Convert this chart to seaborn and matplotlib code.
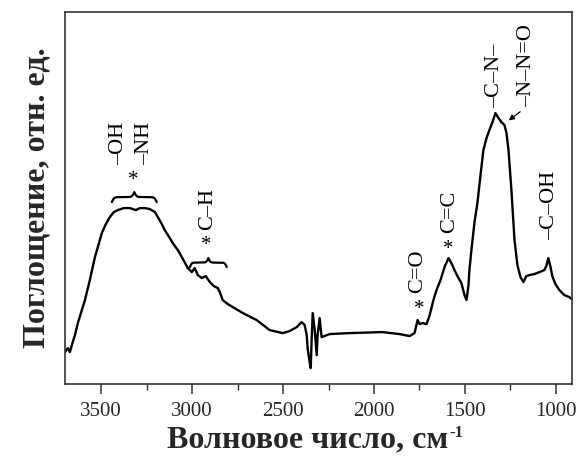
import numpy as np
import matplotlib
matplotlib.use("Agg")
import matplotlib.pyplot as plt
import matplotlib.transforms as mtransforms
import seaborn as sns

# ---- data ----
wavenumber = [3700, 3684, 3673, 3662, 3645, 3629, 3607, 3590, 3563, 3535, 3508, 3497,
              3475, 3453, 3431, 3409, 3376, 3343, 3326, 3310, 3288, 3260, 3233, 3205,
              3189, 3167, 3151, 3123, 3107, 3079, 3057, 3024, 3002, 2986, 2969, 2947,
              2925, 2903, 2881, 2859, 2848, 2832, 2804, 2777, 2711, 2645, 2574, 2502,
              2464, 2425, 2398, 2381, 2370, 2365, 2354, 2348, 2343, 2337, 2326, 2315,
              2310, 2299, 2288, 2244, 2134, 1953, 1859, 1804, 1777, 1760, 1749, 1733,
              1711, 1695, 1673, 1656, 1634, 1612, 1590, 1574, 1557, 1541, 1519, 1502,
              1491, 1480, 1475, 1464, 1447, 1431, 1414, 1398, 1381, 1365, 1348, 1332,
              1315, 1299, 1282, 1271, 1260, 1244, 1227, 1211, 1194, 1178, 1162, 1145,
              1118, 1090, 1063, 1052, 1041, 1030, 1019, 1002, 980, 953, 925, 914]
absorbance = [0.32, 0.36, 0.32, 0.39, 0.49, 0.61, 0.74, 0.84, 1.04, 1.27, 1.44, 1.51,
              1.60, 1.67, 1.72, 1.74, 1.76, 1.76, 1.75, 1.74, 1.76, 1.76, 1.75, 1.72,
              1.67, 1.60, 1.54, 1.46, 1.41, 1.34, 1.27, 1.16, 1.12, 1.16, 1.09, 1.06,
              1.08, 1.02, 0.98, 0.96, 0.92, 0.84, 0.80, 0.77, 0.70, 0.64, 0.54, 0.51,
              0.53, 0.57, 0.62, 0.59, 0.49, 0.36, 0.22, 0.16, 0.44, 0.71, 0.54, 0.29,
              0.49, 0.66, 0.47, 0.50, 0.51, 0.52, 0.50, 0.48, 0.51, 0.64, 0.60, 0.61,
              0.60, 0.68, 0.84, 0.94, 1.04, 1.17, 1.26, 1.21, 1.14, 1.08, 1.01, 0.89,
              0.84, 0.99, 1.14, 1.34, 1.62, 1.81, 2.09, 2.34, 2.46, 2.54, 2.62, 2.71,
              2.66, 2.62, 2.59, 2.51, 2.34, 1.94, 1.44, 1.19, 1.07, 1.02, 1.08, 1.09,
              1.10, 1.12, 1.14, 1.18, 1.26, 1.18, 1.08, 1.00, 0.94, 0.89, 0.87, 0.85]

xticks = [3500, 3000, 2500, 2000, 1500, 1000]
xminor = [3250, 2750, 2250, 1750, 1250]
xlabel = "Волновое число, см"
xlabel_sup = "-1"
ylabel = "Поглощение, отн. ед."

# annotations: (label, wavenumber, bottom of text in absorbance units)
labels = [("–OH", 3406, 2.19), ("–NH", 3260, 2.19), ("C–H", 2914, 1.54),
          ("C=O", 1760, 0.91), ("C=C", 1585, 1.51), ("–C–N–", 1337, 2.76),
          ("–N–N=O", 1162, 2.77), ("–C–OH", 1035, 1.44)]
stars = [(3326, 2.04), (2920, 1.39), (1749, 0.75), (1590, 1.35)]
braces = [(3442, 3195, 1.82, 0.10), (3013, 2810, 1.17, 0.09)]

sns.set_theme(style="white")
plt.rcParams["font.family"] = ["Liberation Serif", "DejaVu Serif"]

fig = plt.figure(figsize=(5.85, 4.65), dpi=100)
ax = fig.add_axes([0.111, 0.174, 0.867, 0.800])

sns.lineplot(x=wavenumber, y=absorbance, ax=ax, color="black", linewidth=1.7,
             estimator=None, sort=False)

ax.set_xticks(xticks)
ax.set_xticks(xminor, minor=True)
ax.set_yticks([])
ax.set_xlim(3700, 910)
ax.set_ylim(0, 3.72)
ax.tick_params(axis="x", which="major", direction="out", length=7, width=1.1,
               labelsize=15, bottom=True, top=False, color="#333333", pad=6)
ax.tick_params(axis="x", which="minor", direction="out", length=4, width=1.0,
               bottom=True, top=False, color="#333333")
for s in ax.spines.values():
    s.set_color("#333333")
    s.set_linewidth(1.2)

ax.set_xlabel(xlabel, fontsize=23, fontweight="bold")
ax.xaxis.set_label_coords(0.478, -0.112)
ax.set_ylabel(ylabel, fontsize=23, fontweight="bold", labelpad=10)

for txt, xw, yb in labels:
    ax.text(xw, yb, txt, rotation=90, ha="center", va="bottom", fontsize=16,
            color="black")
for xw, yc in stars:
    ax.text(xw, yc, "*", ha="center", va="center", fontsize=15, color="black")


def draw_brace(ax, x0, x1, y0, h):
    n = 301
    t = np.linspace(0, 1, n)
    half = t[: n // 2 + 1]
    beta = 40.0
    yh = 1 / (1 + np.exp(-beta * (half - half[0]))) + 1 / (1 + np.exp(-beta * (half - half[-1])))
    yy = np.concatenate([yh, yh[-2::-1]])
    yy = (yy - yy.min()) / (yy.max() - yy.min())
    xx = x0 + (x1 - x0) * t
    ax.plot(xx, y0 + h * yy, color="black", lw=1.6, solid_capstyle="round")


for x0, x1, y0, h in braces:
    draw_brace(ax, x0, x1, y0, h)

ax.annotate("", xy=(1271, 2.62), xytext=(1184, 2.74),
            arrowprops=dict(arrowstyle="-|>", color="black", lw=0.9,
                            mutation_scale=8))

# superscript "-1" after the x label
fig.canvas.draw()
bb = ax.xaxis.label.get_window_extent(fig.canvas.get_renderer())
fig.text(bb.x1 + 1, bb.y1 + 1, xlabel_sup, transform=mtransforms.IdentityTransform(),
         fontsize=12, fontweight="bold", ha="left", va="top")

fig.savefig("out.png", dpi=100)
